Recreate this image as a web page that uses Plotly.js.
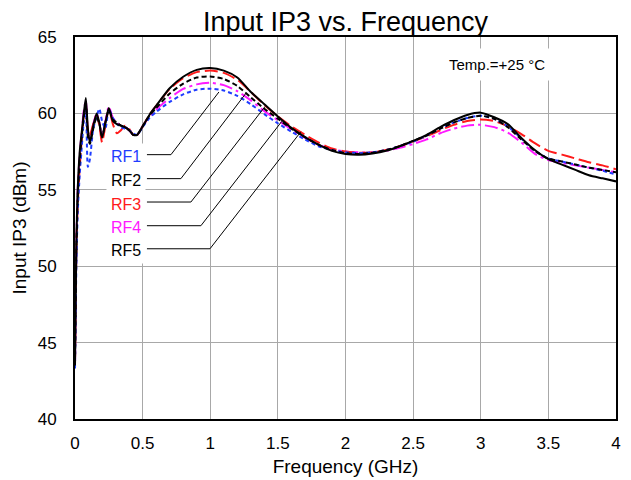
<!DOCTYPE html>
<html>
<head>
<meta charset="utf-8">
<script src="https://cdn.plot.ly/plotly-3.0.1.min.js"></script>
<style>html,body{margin:0;padding:0;background:#fff}#chart{width:631px;height:480px}</style>
</head>
<body>
<div id="chart"></div>
<script>
// Frequency (GHz)
var freq = [0, 0.01, 0.02, 0.035, 0.05, 0.065, 0.08, 0.095, 0.11, 0.135, 0.16, 0.18, 0.2, 0.225, 0.25, 0.28, 0.31, 0.34, 0.37, 0.4, 0.43, 0.46, 0.5, 0.55, 0.6,
  0.7, 0.8, 0.9, 1.0, 1.1, 1.2, 1.3, 1.4, 1.5, 1.6, 1.7, 1.8, 1.9, 2.0, 2.1, 2.2, 2.3, 2.4, 2.5, 2.6, 2.7, 2.8, 2.9, 3.0, 3.1, 3.2, 3.3, 3.4, 3.5, 3.6, 3.7, 3.8, 3.9, 4.0];

// Input IP3 (dBm) per series
var rf1 = [43.3, 50.0, 53.5, 56.0, 57.8, 59.5, 60.5, 56.5, 57.0, 59.0, 59.8, 60.3, 59.5, 59.0, 60.3, 59.7, 59.3, 59.1, 59.0, 58.9, 58.7, 58.6, 59.1, 59.7, 60.1,
  60.75, 61.25, 61.55, 61.62, 61.5, 61.15, 60.6, 59.95, 59.35, 58.8, 58.3, 57.85, 57.6, 57.45, 57.4, 57.45, 57.6, 57.85, 58.15, 58.55, 59.0, 59.4, 59.7, 59.85, 59.65, 59.15, 58.35, 57.55, 57.05, 56.85, 56.65, 56.45, 56.25, 56.0];
var rf2 = [43.5, 51.0, 54.5, 57.0, 58.5, 59.8, 60.5, 58.5, 58.0, 59.0, 59.8, 59.3, 58.5, 59.4, 60.2, 59.6, 59.4, 59.2, 59.1, 58.9, 58.6, 58.6, 59.15, 59.85, 60.35,
  61.3, 61.95, 62.35, 62.42, 62.25, 61.8, 61.05, 60.3, 59.65, 59.0, 58.45, 57.95, 57.6, 57.4, 57.35, 57.42, 57.6, 57.85, 58.2, 58.55, 59.0, 59.4, 59.7, 59.85, 59.65, 59.1, 58.3, 57.55, 57.05, 56.85, 56.65, 56.45, 56.3, 56.15];
var rf3 = [43.6, 51.0, 54.0, 56.5, 58.3, 59.8, 60.5, 59.0, 58.6, 59.3, 59.9, 59.2, 58.1, 59.2, 60.3, 59.3, 58.7, 58.9, 59.2, 59.0, 58.6, 58.6, 59.15, 59.9, 60.5,
  61.6, 62.3, 62.7, 62.8, 62.65, 62.2, 61.4, 60.55, 59.8, 59.15, 58.6, 58.1, 57.7, 57.5, 57.42, 57.45, 57.6, 57.85, 58.15, 58.5, 58.9, 59.25, 59.5, 59.6, 59.5, 59.15, 58.65, 58.05, 57.55, 57.3, 57.05, 56.8, 56.6, 56.35];
var rf4 = [43.7, 51.5, 55.0, 57.3, 58.8, 60.2, 60.8, 58.8, 58.3, 59.3, 60.0, 59.4, 58.5, 59.5, 60.45, 59.7, 59.4, 59.2, 59.1, 58.9, 58.6, 58.6, 59.15, 59.8, 60.25,
  61.0, 61.6, 61.9, 62.0, 61.85, 61.45, 60.85, 60.15, 59.55, 58.95, 58.4, 57.95, 57.65, 57.5, 57.45, 57.45, 57.55, 57.75, 58.0, 58.3, 58.7, 59.0, 59.2, 59.25, 59.1, 58.75, 58.1, 57.35, 56.95, 56.75, 56.6, 56.45, 56.3, 56.15];
var rf5 = [43.8, 51.5, 55.0, 57.5, 58.8, 60.0, 61.0, 59.0, 58.1, 59.2, 60.0, 59.4, 58.4, 59.4, 60.35, 59.5, 59.3, 59.2, 59.1, 58.9, 58.6, 58.6, 59.15, 59.9, 60.5,
  61.65, 62.4, 62.85, 62.97, 62.8, 62.35, 61.4, 60.6, 59.8, 59.05, 58.45, 57.95, 57.55, 57.35, 57.3, 57.38, 57.55, 57.85, 58.2, 58.6, 59.1, 59.55, 59.9, 60.05, 59.75, 59.3, 58.4, 57.6, 57.0, 56.65, 56.3, 55.95, 55.75, 55.55];

var seriesNames = ['RF1', 'RF2', 'RF3', 'RF4', 'RF5'];
var xTicks = [0, 0.5, 1, 1.5, 2, 2.5, 3, 3.5, 4];
var xTickText = ['0', '0.5', '1', '1.5', '2', '2.5', '3', '3.5', '4'];
var yTicks = [40, 45, 50, 55, 60, 65];

var FONT = 'Liberation Sans, Arial, sans-serif';
var styles = [
  {color: '#1f3cff', dash: '4px,3px', width: 2},
  {color: '#000000', dash: '5px,3px', width: 2},
  {color: '#ff1a1a', dash: '13px,5px', width: 2},
  {color: '#ff19ff', dash: '13px,4px,3px,4px', width: 2},
  {color: '#000000', dash: 'solid', width: 2}
];
var ys = [rf1, rf2, rf3, rf4, rf5];
// draw order: put solid black on top
var order = [3, 2, 0, 1, 4];
var traces = order.map(function (i) {
  return {
    x: freq, y: ys[i], name: seriesNames[i], type: 'scatter', mode: 'lines',
    line: {color: styles[i].color, dash: styles[i].dash, width: styles[i].width, shape: 'spline', smoothing: 0.6},
    hoverinfo: 'x+y+name'
  };
});

// label placement (layout only)
var labelY = [57.17, 55.60, 54.03, 52.52, 51.03];
var labelColors = ['#1f3cff', '#000000', '#ff1a1a', '#ff19ff', '#000000'];
var elbows = [[0.7095, 57.30], [0.783, 55.73], [0.857, 54.20], [0.931, 52.65], [0.998, 51.14]];
var ends = [[1.064, 61.40], [1.264, 61.32], [1.404, 60.44], [1.530, 59.49], [1.670, 58.80]];
var lineStartX = 0.532;

var annotations = seriesNames.map(function (n, i) {
  return {
    x: 0.232, y: labelY[i], xref: 'x', yref: 'y', text: n, showarrow: false,
    xanchor: 'left', yanchor: 'middle',
    font: {family: FONT, size: 16, color: labelColors[i]},
    bgcolor: '#ffffff', borderpad: 4
  };
});
annotations.push({
  x: 3.123, y: 63.19, xref: 'x', yref: 'y', text: 'Temp.=+25 °C', showarrow: false,
  xanchor: 'center', yanchor: 'middle',
  font: {family: FONT, size: 15, color: '#000'},
  bgcolor: '#ffffff', borderpad: 7
});

var shapes = seriesNames.map(function (n, i) {
  var hy = elbows[i][1];
  return {
    type: 'path', xref: 'x', yref: 'y',
    path: 'M ' + lineStartX + ',' + hy + ' L ' + elbows[i][0] + ',' + hy + ' L ' + ends[i][0] + ',' + ends[i][1],
    line: {color: '#000', width: 1}
  };
});

var layout = {
  width: 631, height: 480,
  margin: {l: 75, r: 15, t: 37, b: 61, pad: 0},
  paper_bgcolor: '#fff', plot_bgcolor: '#fff',
  showlegend: false,
  font: {family: FONT, color: '#000'},
  title: {text: 'Input IP3 vs. Frequency', font: {family: FONT, size: 27, color: '#000'}, x: 0.5, xref: 'paper', xanchor: 'center', y: 1, yref: 'paper', yanchor: 'bottom', pad: {b: 6}},
  xaxis: {
    range: [0, 4], tickvals: xTicks, ticktext: xTickText,
    showgrid: true, gridcolor: '#a8a8a8', gridwidth: 1,
    showline: true, linecolor: '#000', linewidth: 2, mirror: true,
    ticks: '', zeroline: false, ticklabelstandoff: 8,
    tickfont: {family: FONT, size: 17, color: '#000'},
    title: {text: 'Frequency (GHz)', font: {family: FONT, size: 19, color: '#000'}, standoff: 7}
  },
  yaxis: {
    range: [40, 65], tickvals: yTicks,
    showgrid: true, gridcolor: '#a8a8a8', gridwidth: 1,
    showline: true, linecolor: '#000', linewidth: 2, mirror: true,
    ticks: '', zeroline: false, ticklabelstandoff: 13,
    tickfont: {family: FONT, size: 17, color: '#000'},
    title: {text: 'Input IP3 (dBm)', font: {family: FONT, size: 19, color: '#000'}, standoff: 6}
  },
  annotations: annotations,
  shapes: shapes
};

Plotly.newPlot('chart', traces, layout, {displayModeBar: false, staticPlot: true});
</script>
</body>
</html>
